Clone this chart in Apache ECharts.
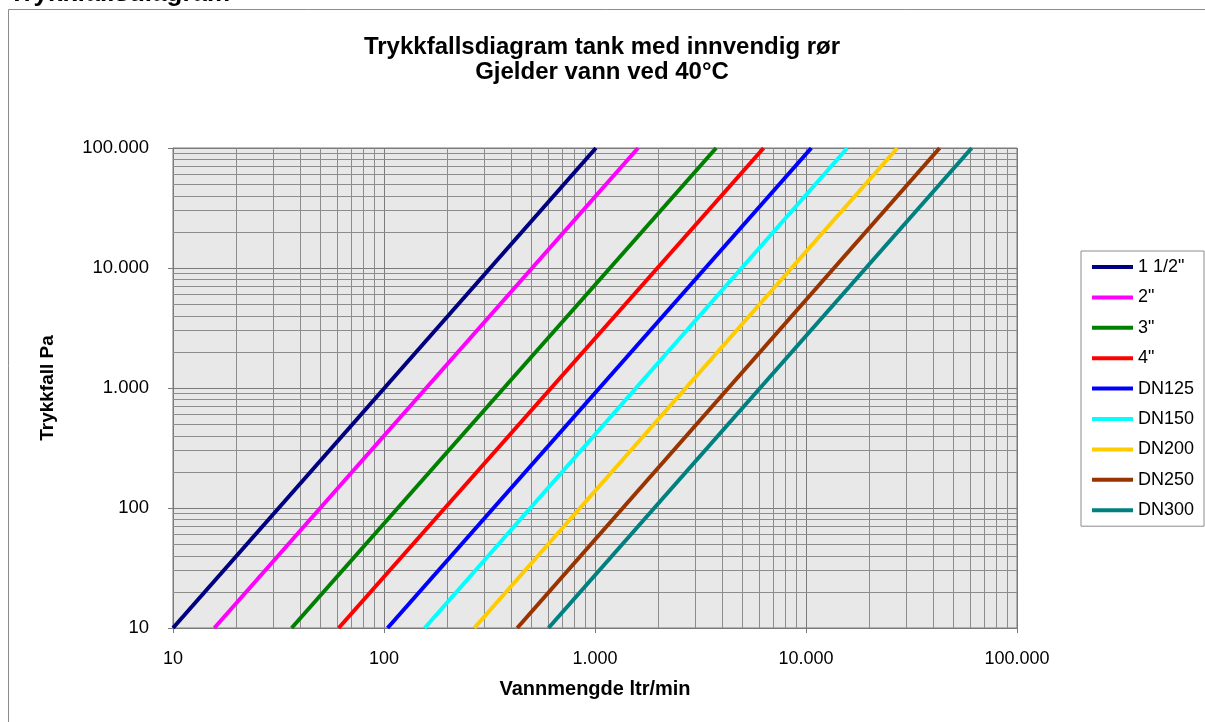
<!DOCTYPE html>
<html>
<head>
<meta charset="utf-8">
<script src="https://cdn.jsdelivr.net/npm/echarts@6/dist/echarts.min.js"></script>
<style>
  html, body { margin: 0; padding: 0; background: #fff; }
  #chart { width: 1205px; height: 722px; }
</style>
</head>
<body>
<div id="chart"></div>
<script>
// pipe sizes and their colours
const sizes = ['1 1/2"', '2"', '3"', '4"', 'DN125', 'DN150', 'DN200', 'DN250', 'DN300']
const colors = ['#000080', '#ff00ff', '#008000', '#ff0000', '#0000ff', '#00ffff', '#ffcc00', '#993300', '#008080']

// flow (ltr/min) where each line meets the bottom (10 Pa) and top (100.000 Pa)
const flowAtMin = [10, 15.7, 36.5, 61, 104, 156, 268, 428, 602]
const flowAtMax = [1010, 1600, 3750, 6300, 10600, 15700, 27100, 43000, 61000]
const dropRange = [10, 100000]

// minor grid values (2..9 in every decade)
const minorX = [20, 30, 40, 50, 60, 70, 80, 90, 200, 300, 400, 500, 600, 700, 800, 900,
  2000, 3000, 4000, 5000, 6000, 7000, 8000, 9000, 20000, 30000, 40000, 50000, 60000, 70000, 80000, 90000]
const minorY = minorX

const fmt = v => String(Math.round(v)).replace(/\B(?=(\d{3})+(?!\d))/g, '.')
const font = 'Liberation Sans, Arial, sans-serif'

let series = sizes.map((name, i) => ({
  name: name,
  type: 'line',
  z: 3,
  symbol: 'none',
  lineStyle: { width: 4, color: colors[i] },
  itemStyle: { color: colors[i] },
  data: [[flowAtMin[i], dropRange[0]], [flowAtMax[i], dropRange[1]]]
}))

series.unshift({
  type: 'line',
  z: 1,
  silent: true,
  data: [],
  markLine: {
    z: 1,
    silent: true,
    symbol: 'none',
    label: { show: false },
    lineStyle: { color: '#8c8c8c', width: 1, type: 'solid' },
    emphasis: { disabled: true },
    data: minorX.map(v => ({ xAxis: v })).concat(minorY.map(v => ({ yAxis: v })))
  }
})

let chart = echarts.init(document.getElementById('chart'))
chart.setOption({
  animation: false,
  textStyle: { fontFamily: font },
  graphic: [
    { type: 'line', shape: { x1: 8.5, y1: 9.5, x2: 1205, y2: 9.5 }, style: { stroke: '#8c8c8c', lineWidth: 1 } },
    { type: 'line', shape: { x1: 8.5, y1: 9.5, x2: 8.5, y2: 722 }, style: { stroke: '#8c8c8c', lineWidth: 1 } },
    { type: 'text', left: 9, top: -19, style: { text: 'Trykkfallsdiagram', font: 'bold 26px ' + font, fill: '#000' } },
    { type: 'text', x: 602, y: 47, style: { text: 'Trykkfallsdiagram tank med innvendig rør', font: 'bold 24px ' + font, fill: '#000', align: 'center', verticalAlign: 'middle' } },
    { type: 'text', x: 602, y: 72, style: { text: 'Gjelder vann ved 40°C', font: 'bold 24px ' + font, fill: '#000', align: 'center', verticalAlign: 'middle' } }
  ],
  legend: {
    data: sizes,
    icon: 'rect',
    orient: 'vertical',
    left: 1081,
    top: 251,
    padding: [7, 10, 7, 11],
    itemWidth: 41,
    itemHeight: 4,
    itemGap: 12.4,
    borderColor: '#8c8c8c',
    borderWidth: 1,
    backgroundColor: '#fff',
    textStyle: { fontSize: 18, lineHeight: 18, color: '#000', fontFamily: font }
  },
  grid: {
    left: 173,
    top: 148,
    right: 188,
    bottom: 94,
    show: true,
    backgroundColor: '#e8e8e8',
    borderColor: '#7a7a7a',
    borderWidth: 1
  },
  xAxis: {
    type: 'log',
    logBase: 10,
    min: 10,
    max: 100000,
    name: 'Vannmengde ltr/min',
    nameLocation: 'middle',
    nameGap: 51,
    nameTextStyle: { fontSize: 20, fontWeight: 'bold', color: '#000' },
    axisLine: { lineStyle: { color: '#7a7a7a' } },
    axisTick: { show: true, length: 5, lineStyle: { color: '#7a7a7a' } },
    axisLabel: { fontSize: 18, color: '#000', margin: 22, formatter: fmt },
    splitLine: { show: true, lineStyle: { color: '#7a7a7a', width: 1 } }
  },
  yAxis: {
    type: 'log',
    logBase: 10,
    min: 10,
    max: 100000,
    name: 'Trykkfall Pa',
    nameLocation: 'middle',
    nameGap: 116,
    nameRotate: 90,
    nameTextStyle: { fontSize: 19, fontWeight: 'bold', color: '#000' },
    axisLine: { show: true, lineStyle: { color: '#7a7a7a' } },
    axisTick: { show: true, length: 5, lineStyle: { color: '#7a7a7a' } },
    axisLabel: { fontSize: 18.5, color: '#000', margin: 24, formatter: fmt },
    splitLine: { show: true, lineStyle: { color: '#7a7a7a', width: 1 } }
  },
  series: series
})
</script>
</body>
</html>
